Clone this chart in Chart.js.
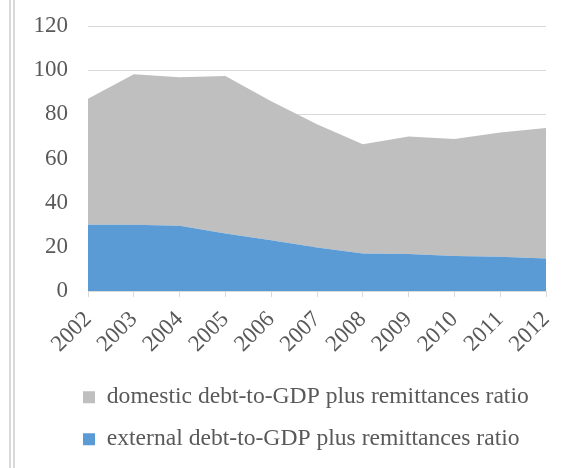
<!DOCTYPE html>
<html>
<head>
<meta charset="utf-8">
<script src="https://cdn.jsdelivr.net/npm/chart.js@4/dist/chart.umd.min.js"></script>
<style>
	body { margin: 0; background: #fff; }
	#wrap { position: relative; width: 581px; height: 468px; }
	.edge { position: absolute; top: 0; width: 2px; height: 468px; background: #d9d9d9; }
</style>
</head>
<body>
<div id="wrap">
	<div class="edge" style="left:9px"></div>
	<div class="edge" style="left:13px"></div>
	<canvas id="mycanvas" width="581" height="468"></canvas>
</div>
<script>
var years = ['2002', '2003', '2004', '2005', '2006', '2007', '2008', '2009', '2010', '2011', '2012'];
var external = [30.0, 30.0, 29.5, 26.0, 23.0, 19.7, 17.0, 16.7, 15.9, 15.5, 14.7];
var domestic = [57.1, 68.2, 67.3, 71.4, 62.9, 55.8, 49.4, 53.3, 52.9, 56.3, 59.1];
var yTicks = [0, 20, 40, 60, 80, 100, 120];

var serifFamily = "'Liberation Serif', 'Times New Roman', serif";
var textColor = '#595959';
var lineColor = '#d9d9d9';
var legendPad = 18.4;

Chart.defaults.font.family = serifFamily;
Chart.defaults.color = textColor;

// legend rows start a bit left of the plot, not at the canvas edge
var legendIndent = {
	id: 'legendIndent',
	afterLayout: function(chart) {
		var lg = chart.legend;
		var x = 83 - legendPad;
		lg.right += x - lg.left;
		lg.left = x;
	}
};

var chartdata = {
	labels: years,
	datasets: [
		{
			label: 'external debt-to-GDP plus remittances ratio',
			data: external,
			backgroundColor: '#5b9bd5',
			borderColor: '#5b9bd5',
			borderWidth: 0,
			pointRadius: 0,
			fill: 'origin'
		},
		{
			label: 'domestic debt-to-GDP plus remittances ratio',
			data: domestic,
			backgroundColor: '#bfbfbf',
			borderColor: '#bfbfbf',
			borderWidth: 0,
			pointRadius: 0,
			fill: '-1'
		}
	]
};

var ctx = document.getElementById('mycanvas');

var areaGraph = new Chart(ctx, {
	type: 'line',
	data: chartdata,
	plugins: [legendIndent],
	options: {
		responsive: false,
		animation: false,
		layout: { padding: { top: 26, right: 35, bottom: 7, left: 10 } },
		plugins: {
			tooltip: { enabled: false },
			legend: {
				position: 'bottom',
				align: 'start',
				reverse: true,
				labels: {
					boxWidth: 12,
					boxHeight: 12,
					padding: legendPad,
					color: textColor,
					font: { family: serifFamily, size: 23.6 }
				}
			}
		},
		scales: {
			x: {
				offset: false,
				afterFit: function(scale) { scale.height = 76; },
				grid: { drawOnChartArea: false, color: lineColor, tickLength: 6 },
				border: { color: lineColor },
				ticks: {
					autoSkip: false,
					minRotation: 45,
					maxRotation: 45,
					padding: 9,
					color: textColor,
					font: { family: serifFamily, size: 23 }
				}
			},
			y: {
				stacked: true,
				min: yTicks[0],
				max: yTicks[yTicks.length - 1],
				afterFit: function(scale) {
					scale.width = 78;
					scale.paddingTop = 0;
					scale.paddingBottom = 0;
				},
				grid: { color: lineColor, drawTicks: false },
				border: { display: false },
				ticks: {
					stepSize: yTicks[1] - yTicks[0],
					padding: 20,
					color: textColor,
					font: { family: serifFamily, size: 23 }
				}
			}
		}
	}
});
</script>
</body>
</html>
